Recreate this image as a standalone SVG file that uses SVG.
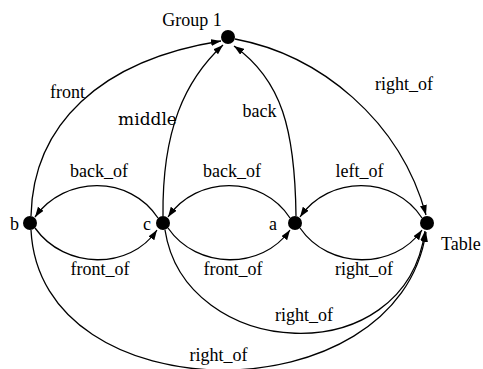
<svg xmlns="http://www.w3.org/2000/svg" width="483" height="369" viewBox="0 0 483 369">
<style>
.e{fill:none;stroke:#000;stroke-width:1.3;marker-end:url(#ah)}
.n{fill:#000}
text{font-family:"Liberation Serif","Times New Roman",serif;font-size:18px;fill:#000}
.m{font-family:"DejaVu Serif",serif;font-size:17px}
</style>
<defs>
<marker id="ah" markerUnits="userSpaceOnUse" markerWidth="11" markerHeight="8" refX="10" refY="3.5" orient="auto">
<path d="M0,0 L10,3.5 L0,7 z" fill="#000"/>
</marker>
</defs>
<rect width="483" height="369" fill="#fff"/>
<g id="edges">
<path class="e" d="M31,216 C33,125 100,60 221,41"/>
<path class="e" d="M163,216 C162,130 185,80 223,45"/>
<path class="e" d="M296,216 C295,130 282,80 234,46"/>
<path class="e" d="M235,39 C320,55 400,120 426,215"/>
<path class="e" d="M158,218 C130,175 65,175 35,217"/>
<path class="e" d="M35,228 C65,270 130,270 157,230"/>
<path class="e" d="M290,218 C262,175 197,175 168,217"/>
<path class="e" d="M168,228 C197,270 262,270 290,230"/>
<path class="e" d="M422,218 C394,175 329,175 300,217"/>
<path class="e" d="M300,228 C329,270 394,270 422,230"/>
<path class="e" d="M165,230 C185,360 405,375 425,231"/>
<path class="e" d="M31,230 C40,415 398,418 426,232"/>
<text x="67.5" y="98" text-anchor="middle">front</text>
<text class="m" x="147.5" y="125" text-anchor="middle">middle</text>
<text x="259.5" y="117" text-anchor="middle">back</text>
<text x="404" y="90" text-anchor="middle">right_of</text>
<text x="99" y="177" text-anchor="middle">back_of</text>
<text x="232" y="177" text-anchor="middle">back_of</text>
<text x="359.5" y="177" text-anchor="middle">left_of</text>
<text x="100" y="275" text-anchor="middle">front_of</text>
<text x="233" y="275" text-anchor="middle">front_of</text>
<text x="364" y="275" text-anchor="middle">right_of</text>
<text x="304" y="321" text-anchor="middle">right_of</text>
<text x="218.5" y="361" text-anchor="middle">right_of</text>
</g>
<g id="group1"><circle class="n" cx="228" cy="37" r="7"/><text x="192" y="26" text-anchor="middle">Group 1</text></g>
<g id="b"><circle class="n" cx="30" cy="223" r="7"/><text x="10" y="230">b</text></g>
<g id="c"><circle class="n" cx="163" cy="223" r="7"/><text x="143" y="230">c</text></g>
<g id="a"><circle class="n" cx="295" cy="223" r="7"/><text x="269" y="230">a</text></g>
<g id="table"><circle class="n" cx="427" cy="223" r="7"/><text x="441" y="250">Table</text></g>
</svg>
